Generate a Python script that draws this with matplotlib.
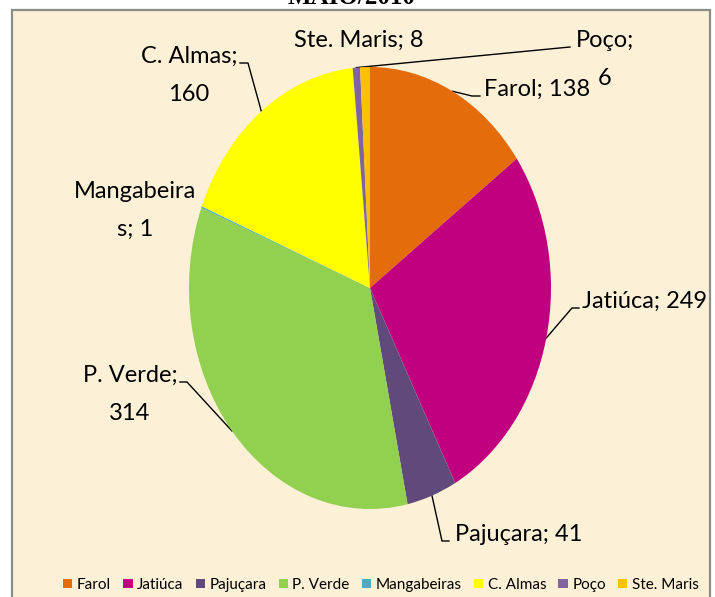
import numpy as np
import matplotlib
matplotlib.use("Agg")
import matplotlib.pyplot as plt
from matplotlib.patches import Rectangle

# data
categories = ["Farol", "Jatiúca", "Pajuçara", "P. Verde", "Mangabeiras", "C. Almas", "Poço", "Ste. Maris"]
values = [138, 249, 41, 314, 1, 160, 6, 8]
colors = ["#E46C0A", "#C0007F", "#604A7B", "#92D050", "#4BACC6", "#FFFF00", "#8064A2", "#FFC000"]
title = "MAIO/2010"

# label layout in pixels (top-down): x, first baseline, ha, split index, leader points near text
label_layout = {
    "Farol":       (484, 96, "left", None, [(472, 96), (480, 96)]),
    "Jatiúca":     (582, 308, "left", None, [(572, 308), (579, 308)]),
    "Pajuçara":    (455, 541, "left", None, [(442, 541), (449, 541)]),
    "P. Verde":    (130, 382, "center", 9, [(187, 382), (180, 382)]),
    "Mangabeiras": (135, 198, "center", 10, None),
    "C. Almas":    (189, 63, "center", 9, [(248, 63), (240, 63)]),
    "Poço":        (605, 47, "center", 5, [(570, 47)]),
    "Ste. Maris":  (359, 47, "center", None, None),
}

W, H = 715, 597
fig = plt.figure(figsize=(W / 100, H / 100), dpi=100)
fig.patch.set_facecolor("white")

bg = fig.add_axes([0, 0, 1, 1])
bg.set_xlim(0, W)
bg.set_ylim(H, 0)
bg.axis("off")
bg.add_patch(Rectangle((11.5, 9.5), 698.5, 620, facecolor="#FCF0D6",
                       edgecolor="#8C8C8C", linewidth=1.6))

# the title sits above the frame and is cropped by the top edge, as in the source image
bg.text(352, 4, title, ha="center", va="baseline", fontsize=18,
        fontweight="bold", family="Liberation Serif")

# elliptical pie: centre (370, 288), half-axes 181 x 221 px
cx, cy, rx, ry = 370, 288, 181, 221
pie_ax = fig.add_axes([(cx - rx) / W, (H - cy - ry) / H, 2 * rx / W, 2 * ry / H])
wedges, _ = pie_ax.pie(values, colors=colors, startangle=90, counterclock=False,
                       radius=1, wedgeprops=dict(linewidth=0))
pie_ax.set_aspect("auto")
pie_ax.set_xlim(-1, 1)
pie_ax.set_ylim(-1, 1)
pie_ax.axis("off")

to_bg = bg.transData.inverted()
font = dict(fontsize=17, family=["Lato", "DejaVu Sans"], color="black")

for w, cat, val in zip(wedges, categories, values):
    x, y, ha, split, leader = label_layout[cat]
    label = f"{cat}; {val}"
    if split:
        lines = [label[:split].rstrip(), label[split:].lstrip()]
    else:
        lines = [label]
    for i, line in enumerate(lines):
        bg.text(x, y + 38 * i, line, ha=ha, va="baseline", **font)
    if leader:
        mid = np.deg2rad((w.theta1 + w.theta2) / 2)
        anchor = to_bg.transform(pie_ax.transData.transform((np.cos(mid), np.sin(mid))))
        pts = [tuple(anchor)] + leader
        bg.plot([p[0] for p in pts], [p[1] for p in pts], color="black", linewidth=1.0)

fig.legend(wedges, categories, loc="center", bbox_to_anchor=(381 / W, 1 - 585 / H),
           ncol=8, frameon=False, handlelength=0.6, handleheight=0.6,
           handletextpad=0.3, columnspacing=0.8, prop=dict(family=["Lato", "DejaVu Sans"], size=11))

fig.savefig("out.png", dpi=100)
